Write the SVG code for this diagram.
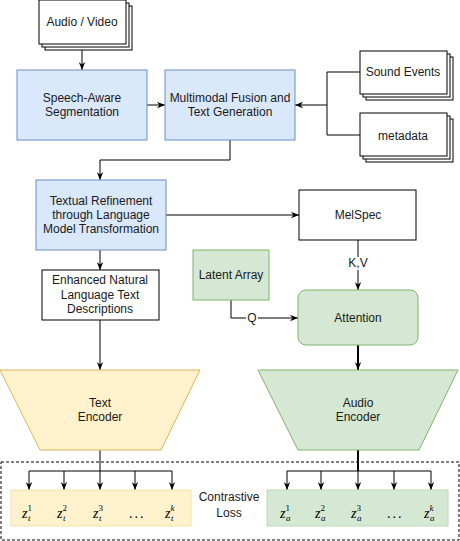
<svg xmlns="http://www.w3.org/2000/svg" width="460" height="541" viewBox="0 0 460 541">
<defs>
<marker id="arr" viewBox="0 0 10 8" markerWidth="8" markerHeight="7" refX="10" refY="4" orient="auto" markerUnits="userSpaceOnUse">
<path d="M0,0 L10,4 L0,8 L3,4 Z" fill="#000"/>
</marker>
<style>
text{font-family:"Liberation Sans",Arial,sans-serif;font-size:12px;fill:#1a1a1a;text-anchor:middle}
.w{fill:#fff;stroke:#000;stroke-width:1}
.blue{fill:#dae8fc;stroke:#6c8ebf;stroke-width:1}
.green{fill:#d5e8d4;stroke:#82b366;stroke-width:1}
.yellow{fill:#fff2cc;stroke:#d6b656;stroke-width:1}
.yz{fill:#fff2cc;stroke:#f3e2ab;stroke-width:1}
.gz{fill:#d5e8d4;stroke:#bcdcb8;stroke-width:1}
.c{fill:none;stroke:#000;stroke-width:1}
.ca{fill:none;stroke:#000;stroke-width:1;marker-end:url(#arr)}
.thick{stroke-width:2}
.m{font-family:"Liberation Serif","DejaVu Serif",serif;font-style:italic;font-size:14px;text-anchor:start;fill:#000}
.sup{font-style:normal;font-size:9px}
.sub{font-size:9px}
.lbl{fill:#fff;stroke:none}
</style>
</defs>

<g id="connectors">
<path class="ca" d="M82,44 V70"/>
<path class="ca" d="M147,105 H165"/>
<path class="c" d="M360,72 H327 V135 H360"/>
<path class="ca" d="M327,105 H295"/>
<path class="ca" d="M230,140 V160 H100 V180"/>
<path class="ca" d="M166,215 H299"/>
<path class="ca" d="M358,240 V290"/>
<path class="ca" d="M231,300 V318 H298"/>
<path class="ca" d="M100,250 V270"/>
<path class="ca" d="M100,320 V370"/>
<path class="ca thick" d="M358,345 V370"/>
<path class="c" d="M100,450 V471 M29,471 H172"/>
<path class="ca" d="M29,471 V490"/>
<path class="ca" d="M64,471 V490"/>
<path class="ca" d="M100,471 V490"/>
<path class="ca" d="M135,471 V490"/>
<path class="ca" d="M172,471 V490"/>
<path class="c thick" d="M358,450 V471"/>
<path class="c" d="M287,471 H431"/>
<path class="ca" d="M287,471 V490"/>
<path class="ca" d="M321,471 V490"/>
<path class="ca" d="M358,471 V490"/>
<path class="ca" d="M394,471 V490"/>
<path class="ca" d="M431,471 V490"/>
<rect class="lbl" x="349" y="257" width="18" height="13"/>
<text x="358" y="267">K,V</text>
<rect class="lbl" x="246" y="312" width="12" height="13"/>
<text x="252" y="322">Q</text>
</g>

<g id="audio-video">
<rect class="w" x="45" y="6" width="87" height="44"/>
<rect class="w" x="42" y="3" width="87" height="44"/>
<rect class="w" x="39" y="0" width="87" height="44"/>
<text x="82" y="26">Audio / Video</text>
</g>

<g id="speech-aware">
<rect class="blue" x="17" y="70" width="130" height="70"/>
<text x="82" y="102">Speech-Aware</text>
<text x="82" y="116">Segmentation</text>
</g>

<g id="multimodal">
<rect class="blue" x="165" y="70" width="130" height="70"/>
<text x="230" y="102">Multimodal Fusion and</text>
<text x="230" y="116">Text Generation</text>
</g>

<g id="sound-events">
<rect class="w" x="366" y="57" width="87" height="43"/>
<rect class="w" x="363" y="54" width="87" height="43"/>
<rect class="w" x="360" y="51" width="87" height="43"/>
<text x="403" y="76">Sound Events</text>
</g>

<g id="metadata">
<rect class="w" x="366" y="119" width="87" height="43"/>
<rect class="w" x="363" y="116" width="87" height="43"/>
<rect class="w" x="360" y="113" width="87" height="43"/>
<text x="403" y="140">metadata</text>
</g>

<g id="textual-refinement">
<rect class="blue" x="36" y="180" width="130" height="70"/>
<text x="101" y="205">Textual Refinement</text>
<text x="101" y="219">through Language</text>
<text x="101" y="233">Model Transformation</text>
</g>

<g id="melspec">
<rect class="w" x="299" y="190" width="117" height="50"/>
<text x="358" y="219">MelSpec</text>
</g>

<g id="latent-array">
<rect class="green" x="193" y="250" width="76" height="50"/>
<text x="231" y="279">Latent Array</text>
</g>

<g id="attention">
<rect class="green" x="298" y="290" width="120" height="55" rx="8" ry="8"/>
<text x="358" y="322">Attention</text>
</g>

<g id="enhanced-text">
<rect class="w" x="42" y="270" width="117" height="50"/>
<text x="100" y="284">Enhanced Natural</text>
<text x="100" y="299">Language Text</text>
<text x="100" y="313">Descriptions</text>
</g>

<g id="text-encoder">
<path class="yellow" d="M0,370 H200 L161,450 H40 Z"/>
<text x="100" y="407">Text</text>
<text x="100" y="421">Encoder</text>
</g>

<g id="audio-encoder">
<path class="green" d="M258,370 H458 L419,450 H298 Z"/>
<text x="358" y="407">Audio</text>
<text x="358" y="421">Encoder</text>
</g>

<g id="contrastive-loss">
<rect x="1" y="462" width="458" height="78" fill="none" stroke="#000" stroke-width="1" stroke-dasharray="3,2"/>
<text x="229" y="501">Contrastive</text>
<text x="229" y="517">Loss</text>
</g>

<g id="text-embeddings">
<rect class="yz" x="11" y="490" width="180" height="36"/>
<text class="m" x="22" y="518">z<tspan class="sup" dy="-7">1</tspan><tspan class="sub" x="28" dy="10">t</tspan></text>
<text class="m" x="57" y="518">z<tspan class="sup" dy="-7">2</tspan><tspan class="sub" x="63" dy="10">t</tspan></text>
<text class="m" x="93" y="518">z<tspan class="sup" dy="-7">3</tspan><tspan class="sub" x="99" dy="10">t</tspan></text>
<text class="m" x="129" y="518" style="font-style:normal" letter-spacing="2">...</text>
<text class="m" x="165" y="518">z<tspan class="sup" style="font-style:italic" dy="-7">k</tspan><tspan class="sub" x="171" dy="10">t</tspan></text>
</g>

<g id="audio-embeddings">
<rect class="gz" x="267" y="490" width="181" height="36"/>
<text class="m" x="280" y="518">z<tspan class="sup" dy="-7">1</tspan><tspan class="sub" x="286" dy="10">a</tspan></text>
<text class="m" x="315" y="518">z<tspan class="sup" dy="-7">2</tspan><tspan class="sub" x="321" dy="10">a</tspan></text>
<text class="m" x="351" y="518">z<tspan class="sup" dy="-7">3</tspan><tspan class="sub" x="357" dy="10">a</tspan></text>
<text class="m" x="387" y="518" style="font-style:normal" letter-spacing="2">...</text>
<text class="m" x="424" y="518">z<tspan class="sup" style="font-style:italic" dy="-7">k</tspan><tspan class="sub" x="430" dy="10">a</tspan></text>
</g>
</svg>
